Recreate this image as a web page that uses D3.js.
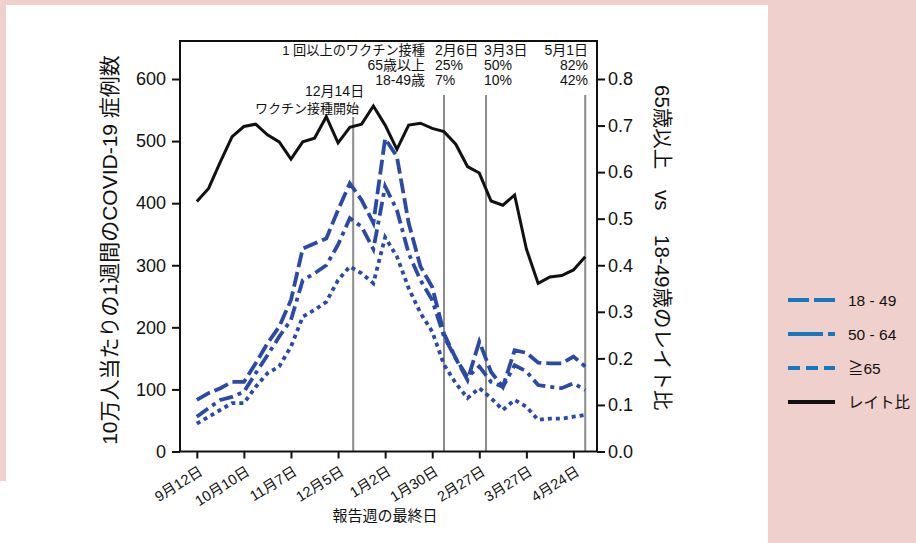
<!DOCTYPE html>
<html>
<head>
<meta charset="utf-8">
<script src="https://cdn.jsdelivr.net/npm/d3@7"></script>
<style>
  body { margin: 0; background: #efd0cc; }
  svg text { font-family: "Liberation Sans", "Noto Sans CJK JP", sans-serif; fill: #111; }
</style>
</head>
<body>
<div id="chart"></div>
<script>
// week-ending dates (Sep 12 2020 - May 1 2021)
var weeks = ["2020-09-12","2020-09-19","2020-09-26","2020-10-03","2020-10-10","2020-10-17","2020-10-24","2020-10-31",
  "2020-11-07","2020-11-14","2020-11-21","2020-11-28","2020-12-05","2020-12-12","2020-12-19","2020-12-26",
  "2021-01-02","2021-01-09","2021-01-16","2021-01-23","2021-01-30","2021-02-06","2021-02-13","2021-02-20",
  "2021-02-27","2021-03-06","2021-03-13","2021-03-20","2021-03-27","2021-04-03","2021-04-10","2021-04-17",
  "2021-04-24","2021-05-01"];

// weekly cases per 100,000
var age18_49 = [83, 94, 102, 112, 112, 142, 174, 201, 244, 327, 335, 343, 389, 432, 405, 368,
  504, 475, 368, 298, 265, 190, 150, 115, 177, 128, 104, 163, 159, 143, 142, 142, 153, 137];
var age50_64 = [56, 70, 83, 88, 96, 126, 155, 185, 212, 276, 287, 300, 333, 376, 362, 326,
  427, 389, 319, 276, 244, 185, 150, 120, 137, 112, 104, 139, 129, 107, 104, 102, 110, 99];
var age65 = [45, 56, 67, 78, 78, 104, 126, 137, 169, 217, 228, 241, 276, 298, 287, 271,
  345, 314, 263, 223, 193, 140, 110, 86, 102, 86, 67, 83, 72, 51, 53, 53, 56, 59];
// rate ratio 65+ vs 18-49
var ratio = [0.537, 0.565, 0.622, 0.676, 0.698, 0.703, 0.680, 0.665, 0.628, 0.665, 0.673, 0.719,
  0.663, 0.696, 0.703, 0.742, 0.701, 0.649, 0.701, 0.705, 0.694, 0.687, 0.660, 0.612, 0.598,
  0.538, 0.529, 0.551, 0.435, 0.361, 0.375, 0.378, 0.390, 0.418];

var tickDates = ["2020-09-12","2020-10-10","2020-11-07","2020-12-05","2021-01-02","2021-01-30","2021-02-27","2021-03-27","2021-04-24"];
var tickLabels = ["9月12日","10月10日","11月7日","12月5日","1月2日","1月30日","2月27日","3月27日","4月24日"];
var leftTicks = [0, 100, 200, 300, 400, 500, 600];
var rightTicks = [0, 0.1, 0.2, 0.3, 0.4, 0.5, 0.6, 0.7, 0.8];

// vaccination markers
var markerDates = ["2020-12-14", "2021-02-06", "2021-03-03", "2021-05-01"];
var vaxHeader = ["2月6日", "3月3日", "5月1日"];
var vax65 = ["25%", "50%", "82%"];
var vax18 = ["7%", "10%", "42%"];

var legendLabels = ["18 - 49", "50 - 64", "≧65", "レイト比"];

var parse = d3.timeParse("%Y-%m-%d");
var dates = weeks.map(parse);

var svg = d3.select("#chart").append("svg")
  .attr("width", 916)
  .attr("height", 543);

svg.append("rect").attr("width", 916).attr("height", 543).attr("fill", "#efd0cc");
svg.append("rect").attr("x", 6).attr("y", 5).attr("width", 762).attr("height", 538).attr("fill", "#fff");
svg.append("rect").attr("x", 0).attr("y", 481).attr("width", 768).attr("height", 62).attr("fill", "#fff");

var x = d3.scaleTime()
  .domain([parse("2020-09-02"), parse("2021-05-08")])
  .range([180, 597]);
var yL = d3.scaleLinear().domain([0, 600]).range([451.5, 79]);
var yR = d3.scaleLinear().domain([0, 0.8]).range([451.5, 79]);

// vertical vaccination lines
svg.selectAll(".vline")
  .data(markerDates)
  .enter()
  .append("line")
  .attr("class", "vline")
  .attr("x1", d => x(parse(d)))
  .attr("x2", d => x(parse(d)))
  .attr("y1", (d, i) => i == 0 ? 117 : 95)
  .attr("y2", 451)
  .attr("stroke", "#8c8c8c")
  .attr("stroke-width", 2);

// frame
svg.append("rect")
  .attr("x", 180).attr("y", 41)
  .attr("width", 417).attr("height", 410.5)
  .attr("fill", "none")
  .attr("stroke", "#111")
  .attr("stroke-width", 2);

// axes
var gl = svg.append("g").attr("transform", "translate(180,0)")
  .call(d3.axisLeft(yL).tickValues(leftTicks).tickSize(8).tickPadding(6));
var gr = svg.append("g").attr("transform", "translate(597,0)")
  .call(d3.axisRight(yR).tickValues(rightTicks).tickSize(8).tickPadding(3).tickFormat(d3.format(".1f")));
var gb = svg.append("g").attr("transform", "translate(0,451.5)")
  .call(d3.axisBottom(x).tickValues(tickDates.map(parse)).tickSize(7).tickFormat(""));

[gl, gr, gb].forEach(function (g) {
  g.select(".domain").remove();
  g.selectAll(".tick line").attr("stroke", "#111").attr("stroke-width", 2);
  g.selectAll(".tick text").style("font-size", "18px").attr("fill", "#111");
});

// x tick labels, rotated
svg.selectAll(".xlab")
  .data(tickDates)
  .enter()
  .append("text")
  .attr("class", "xlab")
  .attr("transform", d => "translate(" + (x(parse(d)) + 7) + ",474) rotate(-32)")
  .attr("text-anchor", "end")
  .style("font-size", "14.5px")
  .text((d, i) => tickLabels[i]);

svg.append("text")
  .attr("x", 385).attr("y", 521)
  .attr("text-anchor", "middle")
  .style("font-size", "15px")
  .text("報告週の最終日");

// axis titles
svg.append("text")
  .attr("transform", "translate(109,250) rotate(-90)")
  .attr("text-anchor", "middle")
  .attr("dominant-baseline", "central")
  .style("font-size", "21px")
  .text("10万人当たりの1週間のCOVID-19 症例数");

var rightTitle = [["65歳以上", 85], ["vs", 190], ["18-49歳のレイト比", 235]];
svg.selectAll(".rtitle")
  .data(rightTitle)
  .enter()
  .append("text")
  .attr("class", "rtitle")
  .attr("transform", d => "translate(662," + d[1] + ") rotate(90)")
  .attr("dominant-baseline", "central")
  .style("font-size", "20.5px")
  .text(d => d[0]);

// lines
var blue = "#2b4aa6";
var lineL = d3.line().x((d, i) => x(dates[i])).y(d => yL(d));
var lineR = d3.line().x((d, i) => x(dates[i])).y(d => yR(d));

svg.append("path").datum(ratio)
  .attr("d", lineR).attr("fill", "none")
  .attr("stroke", "#111").attr("stroke-width", 3).attr("stroke-linejoin", "miter");

var series = [
  { vals: age18_49, dash: "15,5" },
  { vals: age50_64, dash: "14,5,4,5" },
  { vals: age65, dash: "4,4" }
];
svg.selectAll(".age")
  .data(series)
  .enter()
  .append("path")
  .attr("class", "age")
  .attr("d", d => lineL(d.vals))
  .attr("fill", "none")
  .attr("stroke", blue)
  .attr("stroke-width", 3.8)
  .attr("stroke-dasharray", d => d.dash);

// vaccination annotation table
var ann = svg.append("g").style("font-size", "14px");
var rowsY = [55, 70, 85];
var rowLabels = ["1 回以上のワクチン接種", "65歳以上", "18-49歳"];
rowLabels.forEach(function (t, r) {
  ann.append("text").attr("x", 425).attr("y", rowsY[r]).attr("text-anchor", "end")
    .style("font-size", r == 0 ? "13.2px" : "14px").text(t);
});
var cols = [vaxHeader, vax65, vax18];
cols.forEach(function (row, r) {
  ann.append("text").attr("x", 435).attr("y", rowsY[r]).text(row[0]);
  ann.append("text").attr("x", 484).attr("y", rowsY[r]).text(row[1]);
  ann.append("text").attr("x", 588).attr("y", rowsY[r]).attr("text-anchor", "end").text(row[2]);
});
ann.append("text").attr("x", 305).attr("y", 96).text("12月14日");
ann.append("text").attr("x", 255).attr("y", 113).style("font-size", "13px").text("ワクチン接種開始");

// legend
var legColor = "#1778be";
var legDash = ["21,5", "35,5,7,5", "12,6", null];
var legY = [300, 334, 368, 402];
var leg = svg.append("g");
legendLabels.forEach(function (t, i) {
  leg.append("line")
    .attr("x1", 788).attr("x2", 835)
    .attr("y1", legY[i]).attr("y2", legY[i])
    .attr("stroke", i == 3 ? "#111" : legColor)
    .attr("stroke-width", 4)
    .attr("stroke-dasharray", legDash[i]);
  leg.append("text")
    .attr("x", 848).attr("y", legY[i])
    .attr("dominant-baseline", "central")
    .style("font-size", "15.5px")
    .text(t);
});
</script>
</body>
</html>
